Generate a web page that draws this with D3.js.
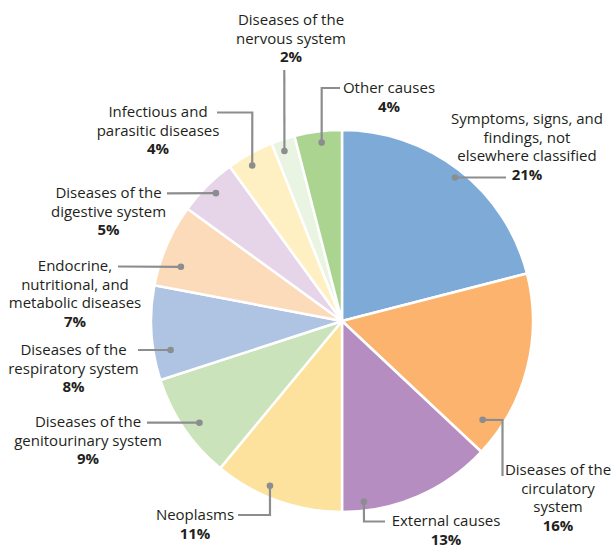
<!DOCTYPE html>
<html><head><meta charset="utf-8">
<script src="https://cdn.jsdelivr.net/npm/d3@7"></script>
<style>
html,body{margin:0;padding:0;background:#fff;}
svg{display:block;}
text{font-family:"Open Sans","Noto Sans",sans-serif;font-size:15px;fill:#231f20;}
</style></head>
<body>
<script>
// ---- data ----
const categories = [
  "Symptoms, signs, and findings, not elsewhere classified",
  "Diseases of the circulatory system",
  "External causes",
  "Neoplasms",
  "Diseases of the genitourinary system",
  "Diseases of the respiratory system",
  "Endocrine, nutritional, and metabolic diseases",
  "Diseases of the digestive system",
  "Infectious and parasitic diseases",
  "Diseases of the nervous system",
  "Other causes"
];
const values = [21, 16, 13, 11, 9, 8, 7, 5, 4, 2, 4];
const labelLines = [
  ["Symptoms, signs, and", "findings, not", "elsewhere classified"],
  ["Diseases of the", "circulatory", "system"],
  ["External causes"],
  ["Neoplasms"],
  ["Diseases of the", "genitourinary system"],
  ["Diseases of the", "respiratory system"],
  ["Endocrine,", "nutritional, and", "metabolic diseases"],
  ["Diseases of the", "digestive system"],
  ["Infectious and", "parasitic diseases"],
  ["Diseases of the", "nervous system"],
  ["Other causes"]
];
const colors = ["#7eaad8","#fbb36e","#b68dc0","#fde29e","#cbe3ba","#aec4e2","#fcdbbb","#e6d5e9","#fff0c4","#eaf4e2","#abd491"];

// ---- layout (annotation placement) ----
const W = 615, H = 548, cx = 342, cy = 321, R = 191;
const layout = [
  {ang:38.2, rf:0.956, path:[[506,177.5]], tx:527, ty:124, anchor:"middle"},
  {ang:125.1, rf:0.90, path:[[502.5,420],[502.5,476]], tx:558, ty:475, anchor:"middle"},
  {ang:173.1, rf:0.953, path:[[364,521.5],[385,521.5]], tx:446, ty:526, anchor:"middle"},
  {ang:203.6, rf:0.942, path:[[270,515],[238,515]], tx:195, ty:520, anchor:"middle"},
  {ang:234.5, rf:0.917, path:[[147,422.7]], tx:88, ty:427, anchor:"middle"},
  {ang:260.4, rf:0.91, path:[[138,350]], tx:73.5, ty:355, anchor:"middle"},
  {ang:288.6, rf:0.89, path:[[118,266.5]], tx:75, ty:271, anchor:"middle"},
  {ang:315.4, rf:0.94, path:[[167,193.3]], tx:108.5, ty:198, anchor:"middle"},
  {ang:330, rf:0.94, path:[[252.3,112.5],[217,112.5]], tx:158, ty:117, anchor:"middle"},
  {ang:341.3, rf:0.94, path:[[284.3,70]], tx:291, ty:25, anchor:"middle"},
  {ang:353.5, rf:0.94, path:[[321.7,88],[340,88]], tx:389, ty:93, anchor:"middle"}
];
const LH = 18.7;

const svg = d3.select("body").append("svg").attr("width", W).attr("height", H);
const g = svg.append("g").attr("transform", `translate(${cx},${cy})`);

const pie = d3.pie().sort(null).value(d => d)(values);
const arc = d3.arc().innerRadius(0).outerRadius(R);

g.selectAll("path.slice").data(pie).join("path")
  .attr("class","slice")
  .attr("d", arc)
  .attr("fill", (d,i) => colors[i])
  .attr("stroke", "#fff").attr("stroke-width", 2.5).attr("stroke-linejoin","round");

const ann = svg.append("g");
layout.forEach((L, i) => {
  const a = L.ang * Math.PI / 180;
  const dx = cx + Math.sin(a) * R * L.rf;
  const dy = cy - Math.cos(a) * R * L.rf;
  const pts = [[dx, dy], ...L.path];
  ann.append("path")
    .attr("d", d3.line()(pts))
    .attr("fill","none").attr("stroke","#8c8d8f").attr("stroke-width",2.2);
  ann.append("circle").attr("cx", dx).attr("cy", dy).attr("r", 3.3).attr("fill","#8c8d8f");
  const t = ann.append("text").attr("text-anchor", L.anchor);
  const lines = labelLines[i];
  lines.forEach((ln, k) => {
    t.append("tspan").attr("x", L.tx).attr("y", L.ty + k*LH).text(ln);
  });
  t.append("tspan").attr("x", L.tx).attr("y", L.ty + lines.length*LH)
    .attr("font-weight","bold").text(values[i] + "%");
});
</script>
</body></html>
